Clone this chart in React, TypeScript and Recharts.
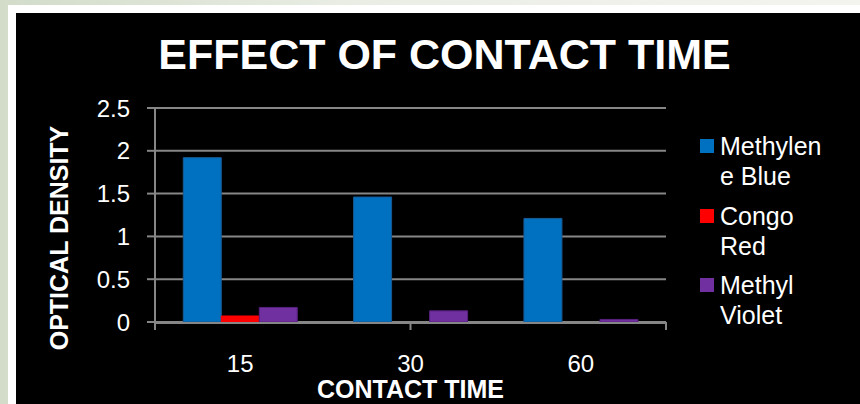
import { Bar, BarChart, CartesianGrid, Legend, XAxis, YAxis } from 'recharts'

const FONT = '"Liberation Sans", Arial, sans-serif'
const GRID = '#868686'

const TIMES = ['15', '30', '60']
const METHYLENE_BLUE = [1.92, 1.46, 1.21]
const CONGO_RED = [0.07, 0, 0]
const METHYL_VIOLET = [0.17, 0.13, 0.03]
const Y_TICKS = [0, 0.5, 1, 1.5, 2, 2.5]
const EDGE_TICKS = [0, 1, 2, 3]

const SERIES = [
  { key: 'blue', name: 'Methylene Blue', lines: ['Methylen', 'e Blue'], fill: '#0070c0', stroke: '#1a5a94' },
  { key: 'red', name: 'Congo Red', lines: ['Congo', 'Red'], fill: '#ff0000', stroke: '#ff0000' },
  { key: 'violet', name: 'Methyl Violet', lines: ['Methyl', 'Violet'], fill: '#7030a0', stroke: '#58207f' },
]

const data = TIMES.map((t, i) => ({
  time: t,
  blue: METHYLENE_BLUE[i],
  red: CONGO_RED[i],
  violet: METHYL_VIOLET[i],
}))

function ChartLegend() {
  return (
    <div style={{ fontFamily: FONT, fontSize: 25, lineHeight: '30px', color: '#fff' }}>
      {SERIES.map((s) => (
        <div key={s.key} style={{ display: 'flex', alignItems: 'flex-start', marginBottom: 9.5 }}>
          <span
            style={{ width: 14, height: 14, background: s.fill, marginTop: 8, marginRight: 6, flex: 'none' }}
          />
          <div>
            {s.lines.map((l) => (
              <div key={l}>{l}</div>
            ))}
          </div>
        </div>
      ))}
    </div>
  )
}

function EmptyTick() {
  return <g />
}

// eslint-disable-next-line @typescript-eslint/no-explicit-any
function YTitle(props: any) {
  const vb = props.viewBox
  const x = vb.x + 52
  const y = vb.y + vb.height / 2 + 23
  return (
    <text
      x={x}
      y={y}
      transform={`rotate(-90 ${x} ${y})`}
      textAnchor="middle"
      fill="#fff"
      fontFamily={FONT}
      fontWeight="bold"
      fontSize={25}
    >
      OPTICAL DENSITY
    </text>
  )
}

// eslint-disable-next-line @typescript-eslint/no-explicit-any
function XTitle(props: any) {
  const vb = props.viewBox
  return (
    <text
      x={vb.x + vb.width / 2}
      y={vb.y + 75}
      textAnchor="middle"
      fill="#fff"
      fontFamily={FONT}
      fontWeight="bold"
      fontSize={25}
    >
      CONTACT TIME
    </text>
  )
}

export default function App() {
  return (
    <div
      style={{
        position: 'fixed',
        left: 0,
        top: 0,
        width: 860,
        height: 404,
        overflow: 'hidden',
        background: 'linear-gradient(90deg, #d2dcc9 0%, #e9ede4 40%, #f4f4ef 100%)',
      }}
    >
      <div style={{ position: 'absolute', left: 8, top: 5, right: 0, bottom: 0, background: '#fff' }} />
      <div style={{ position: 'absolute', left: 16, top: 13, right: 0, bottom: 0, background: '#000' }} />
      <div
        style={{
          position: 'absolute',
          left: 0,
          top: 33,
          width: 889,
          textAlign: 'center',
          fontFamily: FONT,
          fontWeight: 'bold',
          fontSize: 43,
          lineHeight: '43px',
          color: '#fff',
          whiteSpace: 'nowrap',
        }}
      >
        EFFECT OF CONTACT TIME
      </div>
      <div style={{ position: 'absolute', left: 0, top: 0 }}>
        <BarChart
          width={860}
          height={404}
          data={data}
          margin={{ top: 108, right: 194, bottom: 0, left: 16 }}
          barCategoryGap="16.6%"
          barGap={0}
        >
          <CartesianGrid vertical={false} xAxisId="cat" stroke={GRID} strokeWidth={2} />
          <XAxis
            type="number"
            domain={[0, 3]}
            ticks={EDGE_TICKS}
            interval={0}
            height={1}
            tick={<EmptyTick />}
            tickSize={8}
            tickLine={{ stroke: GRID, strokeWidth: 2 }}
            axisLine={false}
          />
          <XAxis
            xAxisId="cat"
            dataKey="time"
            height={81}
            tickLine={false}
            tickSize={0}
            tickMargin={32}
            axisLine={{ stroke: GRID, strokeWidth: 2 }}
            tick={{ fill: '#fff', fontSize: 24, fontFamily: FONT }}
            label={<XTitle />}
          />
          <YAxis
            width={139}
            domain={[0, 2.5]}
            ticks={Y_TICKS}
            tickSize={8}
            tickMargin={17}
            tickLine={{ stroke: GRID, strokeWidth: 2 }}
            axisLine={{ stroke: GRID, strokeWidth: 2 }}
            tick={{ fill: '#fff', fontSize: 24, fontFamily: FONT }}
            label={<YTitle />}
          />
          <Legend
            layout="horizontal"
            verticalAlign="middle"
            align="center"
            content={<ChartLegend />}
            wrapperStyle={{ left: 700, top: 131, width: 150 }}
          />
          {SERIES.map((s) => (
            <Bar
              key={s.key}
              xAxisId="cat"
              dataKey={s.key}
              name={s.name}
              fill={s.fill}
              stroke={s.stroke}
              strokeWidth={1}
              isAnimationActive={false}
            />
          ))}
        </BarChart>
      </div>
    </div>
  )
}
